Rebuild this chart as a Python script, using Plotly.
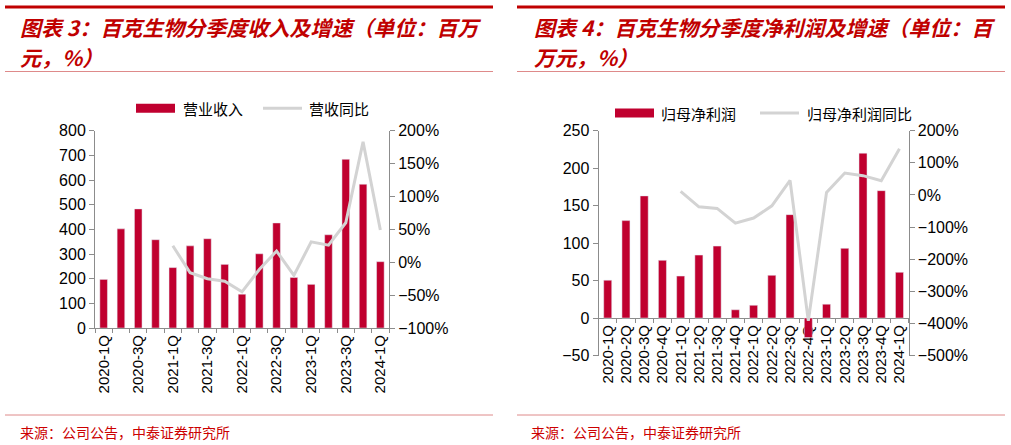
import plotly.graph_objects as go

# ---------------- data ----------------
quarters = ["2020-1Q", "2020-2Q", "2020-3Q", "2020-4Q",
            "2021-1Q", "2021-2Q", "2021-3Q", "2021-4Q",
            "2022-1Q", "2022-2Q", "2022-3Q", "2022-4Q",
            "2023-1Q", "2023-2Q", "2023-3Q", "2023-4Q", "2024-1Q"]

revenue = [197, 402, 483, 358, 245, 333, 362, 258, 137, 301, 426, 205, 177, 378, 684, 583, 269]
revenue_yoy = [None, None, None, None, 25, -16, -25, -29, -45, -11, 17, -20, 31, 26, 60, 183, 49]

net_profit = [50.5, 130, 163, 77, 56, 84, 96, 11, 17, 57, 138, -26, 18.5, 93, 220, 170, 61]
net_profit_yoy = [None, None, None, None, 11, -37, -42, -88, -72, -34, 45, -392, 8, 68, 60, 44, 144]

left_title = ["图表 3：百克生物分季度收入及增速（单位：百万", "元，%）"]
right_title = ["图表 4：百克生物分季度净利润及增速（单位：百", "万元，%）"]
legend_left = ["营业收入", "营收同比"]
legend_right = ["归母净利润", "归母净利润同比"]
source_text = "来源：公司公告，中泰证券研究所"

# ---------------- styling ----------------
W, H = 1011, 445
BAR = "#C0002F"
LINE = "#D3D3D3"
AX = "#8C8C8C"
TITLE_RED = "#C00000"
THIN_RED = "#DE8A8A"
NUM_FONT = "Liberation Sans, Arial, sans-serif"
CJK = "Noto Sans CJK SC"


def X(px):
    return px / W


def Y(py):
    return 1 - py / H


fig = go.Figure()

# left panel
fig.add_trace(go.Bar(x=quarters, y=revenue, marker_color=BAR, xaxis="x", yaxis="y",
                     showlegend=False, name=legend_left[0]))
fig.add_trace(go.Scatter(x=quarters, y=revenue_yoy, mode="lines", line=dict(color=LINE, width=3),
                         xaxis="x", yaxis="y2", showlegend=False, name=legend_left[1]))
# right panel
fig.add_trace(go.Bar(x=quarters, y=net_profit, marker_color=BAR, xaxis="x2", yaxis="y3",
                     showlegend=False, name=legend_right[0]))
fig.add_trace(go.Scatter(x=quarters, y=net_profit_yoy, mode="lines", line=dict(color=LINE, width=3),
                         xaxis="x2", yaxis="y4", showlegend=False, name=legend_right[1]))

xtickfont = dict(family=NUM_FONT, size=15, color="#000000")
ytickfont = dict(family=NUM_FONT, size=16, color="#000000")
common_x = dict(type="category", showgrid=False, showline=True, linecolor=AX, linewidth=1,
                ticks="outside", ticklen=4, tickcolor=AX, tickson="boundaries",
                tickangle=-90, tickfont=xtickfont, zeroline=False, range=[-0.5, 16.5])
common_y = dict(showgrid=False, showline=True, linecolor=AX, linewidth=1, ticks="outside",
                ticklen=5, tickcolor=AX, tickfont=ytickfont, zeroline=False)

left_dom_y = [Y(328), Y(130.7)]
right_dom_y = [Y(355.5), Y(130.7)]
zero_pos = right_dom_y[0] + (right_dom_y[1] - right_dom_y[0]) * (50 / 300)

fig.update_layout(
    width=W, height=H, margin=dict(l=0, r=0, t=0, b=0, autoexpand=False),
    paper_bgcolor="white", plot_bgcolor="white", bargap=0.56, hovermode=False,
    xaxis=dict(common_x, domain=[X(95), X(389)], anchor="y",
               tickmode="array", tickvals=quarters,
               ticktext=[q if i % 2 == 0 else "" for i, q in enumerate(quarters)]),
    yaxis=dict(common_y, domain=left_dom_y, anchor="x", range=[0, 800], dtick=100),
    yaxis2=dict(common_y, overlaying="y", side="right", anchor="x", range=[-100, 200],
                dtick=50, ticksuffix="%"),
    xaxis2=dict(common_x, domain=[X(598.6), X(908.6)], anchor="free", position=zero_pos,
                tickmode="array", tickvals=quarters, ticktext=quarters, layer="below traces"),
    yaxis3=dict(common_y, domain=right_dom_y, anchor="x2", range=[-50, 250], dtick=50),
    yaxis4=dict(common_y, overlaying="y3", side="right", anchor="x2", range=[-500, 200],
                dtick=100, ticksuffix="%"),
)

shapes = []
annotations = []

# header / footer rules
for x0, x1, fx in [(5, 493, 18), (517, 1005, 529)]:
    shapes.append(dict(type="line", xref="paper", yref="paper", x0=X(x0), x1=X(x1), y0=Y(7), y1=Y(7),
                       line=dict(color=TITLE_RED, width=3)))
    shapes.append(dict(type="line", xref="paper", yref="paper", x0=X(x0), x1=X(x1), y0=Y(71.5), y1=Y(71.5),
                       line=dict(color=THIN_RED, width=1)))
    shapes.append(dict(type="line", xref="paper", yref="paper", x0=X(x0), x1=X(x1), y0=Y(415), y1=Y(415),
                       line=dict(color=THIN_RED, width=1)))
    annotations.append(dict(xref="paper", yref="paper", x=X(fx), y=Y(432), xanchor="left",
                            yanchor="middle", showarrow=False, text=source_text,
                            font=dict(family=CJK, size=14, color="#CC0000")))

for title, tx in [(left_title, 18), (right_title, 532)]:
    for line_txt, ty in zip(title, [27, 57]):
        annotations.append(dict(xref="paper", yref="paper", x=X(tx), y=Y(ty), xanchor="left",
                                yanchor="middle", showarrow=False, text=line_txt,
                                font=dict(family=CJK, size=21, color=TITLE_RED,
                                          weight="bold", style="italic")))

# custom legends
for (names, bx, tx1, lx, tx2, cy) in [
    (legend_left, 136, 181, 263, 307, 108.3),
    (legend_right, 615, 659, 760, 805, 113),
]:
    shapes.append(dict(type="rect", xref="paper", yref="paper", x0=X(bx), x1=X(bx + 39),
                       y0=Y(cy + 4.5), y1=Y(cy - 4.5), fillcolor=BAR, line=dict(width=0)))
    shapes.append(dict(type="line", xref="paper", yref="paper", x0=X(lx), x1=X(lx + 39),
                       y0=Y(cy), y1=Y(cy), line=dict(color=LINE, width=3)))
    annotations.append(dict(xref="paper", yref="paper", x=X(tx1), y=Y(cy), xanchor="left",
                            yanchor="middle", showarrow=False, text=names[0],
                            font=dict(family=CJK, size=15, color="#000000")))
    annotations.append(dict(xref="paper", yref="paper", x=X(tx2), y=Y(cy), xanchor="left",
                            yanchor="middle", showarrow=False, text=names[1],
                            font=dict(family=CJK, size=15, color="#000000")))

fig.update_layout(shapes=shapes, annotations=annotations)
fig.write_html("out.html", config={"displayModeBar": False},
               post_script="document.body.style.margin='0';document.body.style.overflow='hidden';")
